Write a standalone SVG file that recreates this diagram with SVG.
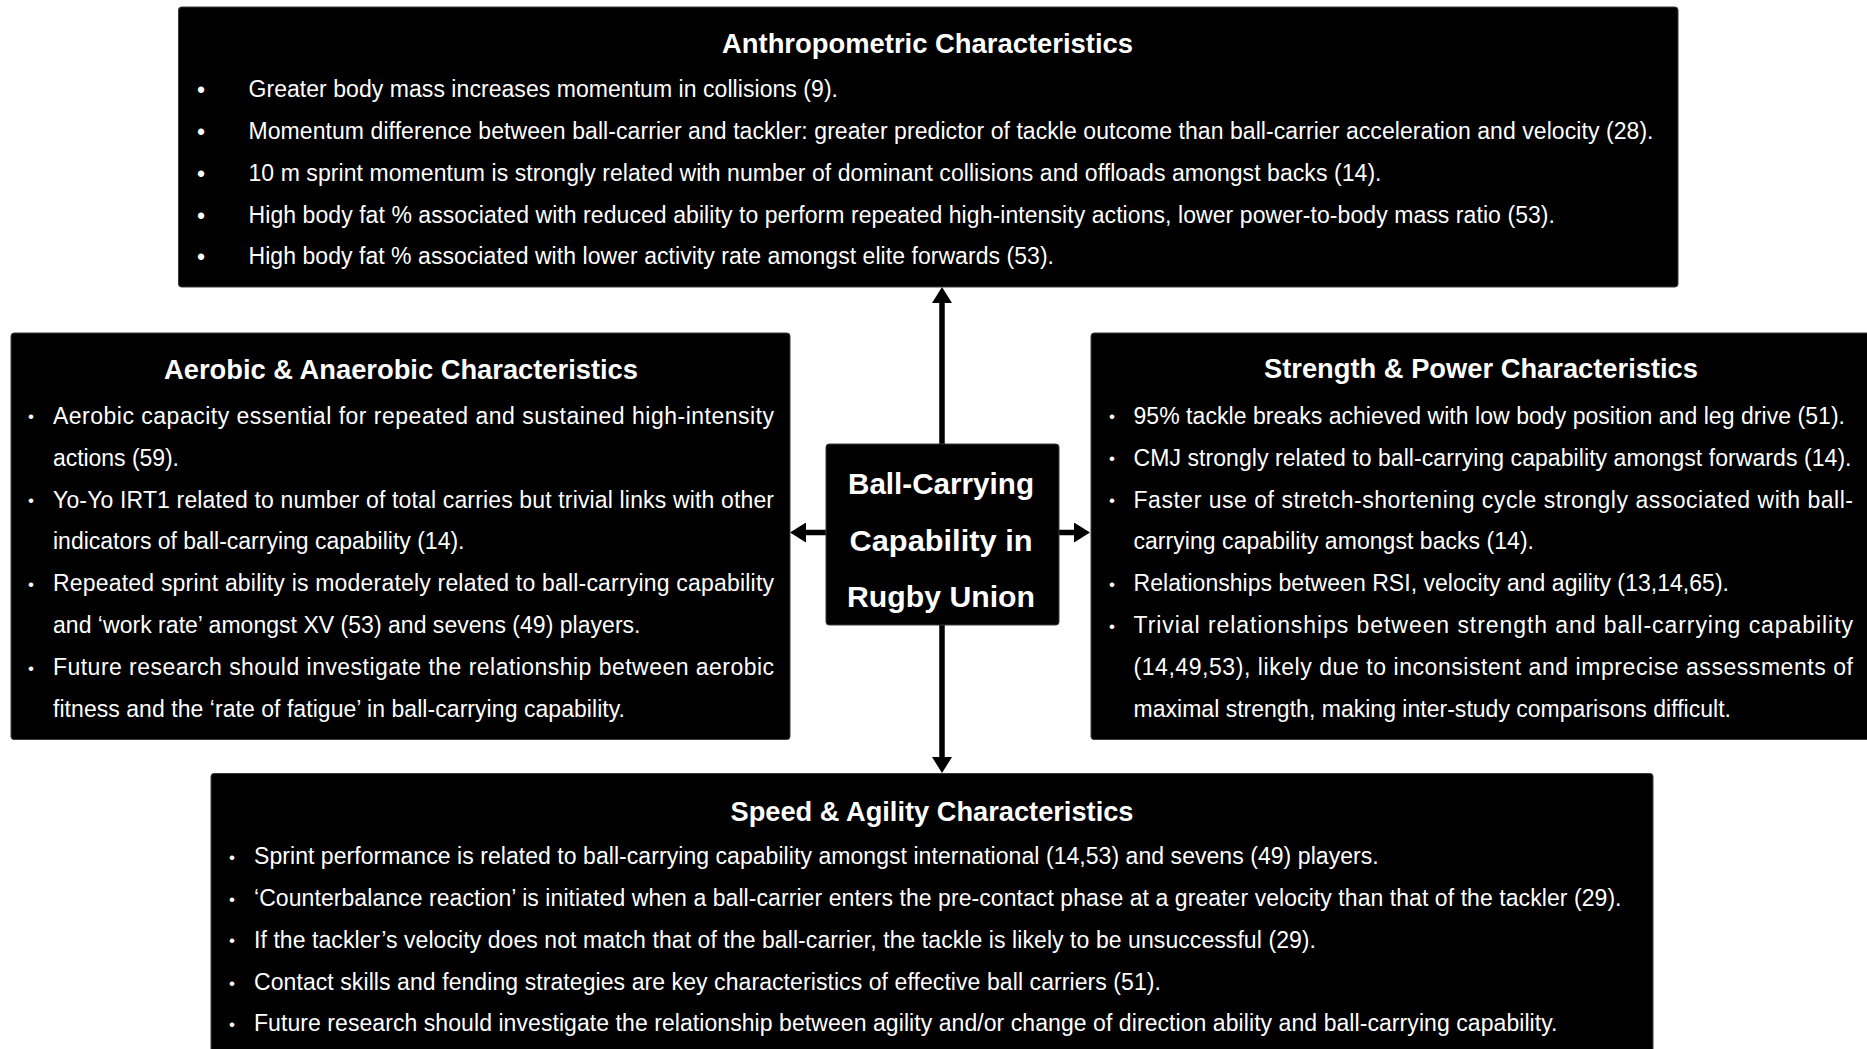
<svg xmlns="http://www.w3.org/2000/svg" width="1867" height="1049" viewBox="0 0 1867 1049">
<defs>
<style>
.box{fill:#000;stroke:#3a3a3a;stroke-width:1}
.t{font-family:"Liberation Sans",Arial,sans-serif;font-size:23px;fill:#fff}
.h{font-family:"Liberation Sans",Arial,sans-serif;font-size:27px;font-weight:bold;fill:#fff;text-anchor:middle}
.c{font-family:"Liberation Sans",Arial,sans-serif;font-size:30px;font-weight:bold;fill:#fff;text-anchor:middle}
.b{font-family:"Liberation Sans",Arial,sans-serif;font-size:23px;fill:#fff;text-anchor:middle}
.bs{font-family:"Liberation Sans",Arial,sans-serif;font-size:17px;fill:#fff;text-anchor:middle}
.conn{stroke:#000;stroke-width:5.5;fill:none}
</style>
<marker id="ah" markerWidth="16" markerHeight="20" refX="0" refY="10" orient="auto" markerUnits="userSpaceOnUse">
<path d="M0,0 L16,10 L0,20 z" fill="#000"/>
</marker>
</defs>
<rect width="1867" height="1049" fill="#fff"/>

<g id="connectors">
<line class="conn" x1="942" y1="444" x2="942" y2="303" marker-end="url(#ah)"/>
<line class="conn" x1="942" y1="624" x2="942" y2="757" marker-end="url(#ah)"/>
<line class="conn" x1="827" y1="532.5" x2="806" y2="532.5" marker-end="url(#ah)"/>
<line class="conn" x1="1058" y1="532.5" x2="1074" y2="532.5" marker-end="url(#ah)"/>
</g>

<g id="anthropometric">
<rect class="box" x="178.5" y="7" width="1499.5" height="280" rx="3"/>
<text class="h" x="927.5" y="52.5" textLength="411" lengthAdjust="spacingAndGlyphs">Anthropometric Characteristics</text>
<text class="b" x="201" y="98">•</text>
<text class="b" x="201" y="140">•</text>
<text class="b" x="201" y="181.5">•</text>
<text class="b" x="201" y="223.5">•</text>
<text class="b" x="201" y="265">•</text>
<text class="t" x="248.5" y="97" textLength="589.5" lengthAdjust="spacing">Greater body mass increases momentum  in collisions (9).</text>
<text class="t" x="248.5" y="139" textLength="1405" lengthAdjust="spacing">Momentum  difference between ball-carrier and tackler: greater predictor of tackle outcome than ball-carrier acceleration and velocity (28).</text>
<text class="t" x="248.5" y="180.5" textLength="1133" lengthAdjust="spacing">10 m sprint momentum  is strongly related with number of dominant collisions and offloads amongst backs (14).</text>
<text class="t" x="248.5" y="222.5" textLength="1306.5" lengthAdjust="spacing">High body fat % associated with reduced ability to perform repeated high-intensity  actions, lower power-to-body mass ratio (53).</text>
<text class="t" x="248.5" y="264" textLength="805.5" lengthAdjust="spacing">High body fat % associated with lower activity rate amongst elite forwards (53).</text>
</g>

<g id="aerobic">
<rect class="box" x="11" y="333" width="779" height="406.5" rx="3"/>
<text class="h" x="401" y="378.5" textLength="474" lengthAdjust="spacingAndGlyphs">Aerobic &amp; Anaerobic Characteristics</text>
<text class="bs" x="31" y="422">•</text>
<text class="bs" x="31" y="506">•</text>
<text class="bs" x="31" y="590">•</text>
<text class="bs" x="31" y="674">•</text>
<text class="t" x="53" y="423.5" textLength="721" lengthAdjust="spacing">Aerobic capacity essential for repeated and sustained high-intensity</text>
<text class="t" x="53" y="465.5" textLength="126" lengthAdjust="spacing">actions (59).</text>
<text class="t" x="53" y="507.5" textLength="721" lengthAdjust="spacing">Yo-Yo IRT1 related to number of total carries but trivial links with other</text>
<text class="t" x="53" y="549.3" textLength="411.5" lengthAdjust="spacing">indicators of ball-carrying  capability (14).</text>
<text class="t" x="53" y="591.3" textLength="721" lengthAdjust="spacing">Repeated sprint ability is moderately related to ball-carrying capability</text>
<text class="t" x="53" y="633.3" textLength="587.5" lengthAdjust="spacing">and ‘work rate’ amongst XV (53) and sevens (49) players.</text>
<text class="t" x="53" y="675" textLength="721" lengthAdjust="spacing">Future research should investigate the relationship between aerobic</text>
<text class="t" x="53" y="716.8" textLength="572" lengthAdjust="spacing">fitness and the ‘rate of fatigue’ in ball-carrying  capability.</text>
</g>

<g id="center">
<rect class="box" x="826" y="444" width="233" height="181" rx="3"/>
<text class="c" x="941" y="494" textLength="186" lengthAdjust="spacingAndGlyphs">Ball-Carrying</text>
<text class="c" x="941" y="550.5" textLength="183" lengthAdjust="spacingAndGlyphs">Capability  in</text>
<text class="c" x="941" y="607" textLength="188" lengthAdjust="spacingAndGlyphs">Rugby Union</text>
</g>

<g id="strength">
<rect class="box" x="1091" y="333" width="780" height="406.5" rx="3"/>
<text class="h" x="1481" y="378" textLength="434" lengthAdjust="spacingAndGlyphs">Strength &amp; Power Characteristics</text>
<text class="bs" x="1112" y="422">•</text>
<text class="bs" x="1112" y="464">•</text>
<text class="bs" x="1112" y="506">•</text>
<text class="bs" x="1112" y="590">•</text>
<text class="bs" x="1112" y="632">•</text>
<text class="t" x="1133.5" y="423.5" textLength="711.5" lengthAdjust="spacing">95% tackle breaks achieved with low body position and leg drive (51).</text>
<text class="t" x="1133.5" y="465.5" textLength="718" lengthAdjust="spacing">CMJ strongly  related to ball-carrying capability amongst forwards (14).</text>
<text class="t" x="1133.5" y="507.5" textLength="719.5" lengthAdjust="spacing">Faster use of stretch-shortening cycle strongly associated with ball-</text>
<text class="t" x="1133.5" y="549.3" textLength="400.5" lengthAdjust="spacing">carrying capability amongst backs (14).</text>
<text class="t" x="1133.5" y="591.3" textLength="595.5" lengthAdjust="spacing">Relationships between RSI, velocity and agility (13,14,65).</text>
<text class="t" x="1133.5" y="633.3" textLength="719.5" lengthAdjust="spacing">Trivial relationships between strength and ball-carrying capability</text>
<text class="t" x="1133.5" y="675" textLength="719.5" lengthAdjust="spacing">(14,49,53), likely due to inconsistent and imprecise assessments of</text>
<text class="t" x="1133.5" y="716.8" textLength="597.5" lengthAdjust="spacing">maximal strength, making inter-study  comparisons difficult.</text>
</g>

<g id="speed">
<rect class="box" x="211" y="773.5" width="1442" height="290" rx="3"/>
<text class="h" x="932" y="821" textLength="403" lengthAdjust="spacingAndGlyphs">Speed &amp; Agility Characteristics</text>
<text class="bs" x="232" y="862.5">•</text>
<text class="bs" x="232" y="904.5">•</text>
<text class="bs" x="232" y="946">•</text>
<text class="bs" x="232" y="988.5">•</text>
<text class="bs" x="232" y="1029.5">•</text>
<text class="t" x="254" y="864" textLength="1124.7" lengthAdjust="spacing">Sprint performance is related to ball-carrying  capability amongst international  (14,53) and sevens (49) players.</text>
<text class="t" x="254" y="906" textLength="1367.5" lengthAdjust="spacing">‘Counterbalance reaction’ is initiated when a ball-carrier enters the pre-contact phase at a greater velocity  than that  of the tackler (29).</text>
<text class="t" x="254" y="947.5" textLength="1062" lengthAdjust="spacing">If the tackler’s velocity does not match that of the ball-carrier, the tackle is likely to be unsuccessful  (29).</text>
<text class="t" x="254" y="990" textLength="907" lengthAdjust="spacing">Contact skills and fending strategies are key characteristics of effective ball carriers (51).</text>
<text class="t" x="254" y="1031" textLength="1303.5" lengthAdjust="spacing">Future research should investigate the relationship between agility and/or change of direction ability and ball-carrying  capability.</text>
</g>
</svg>
